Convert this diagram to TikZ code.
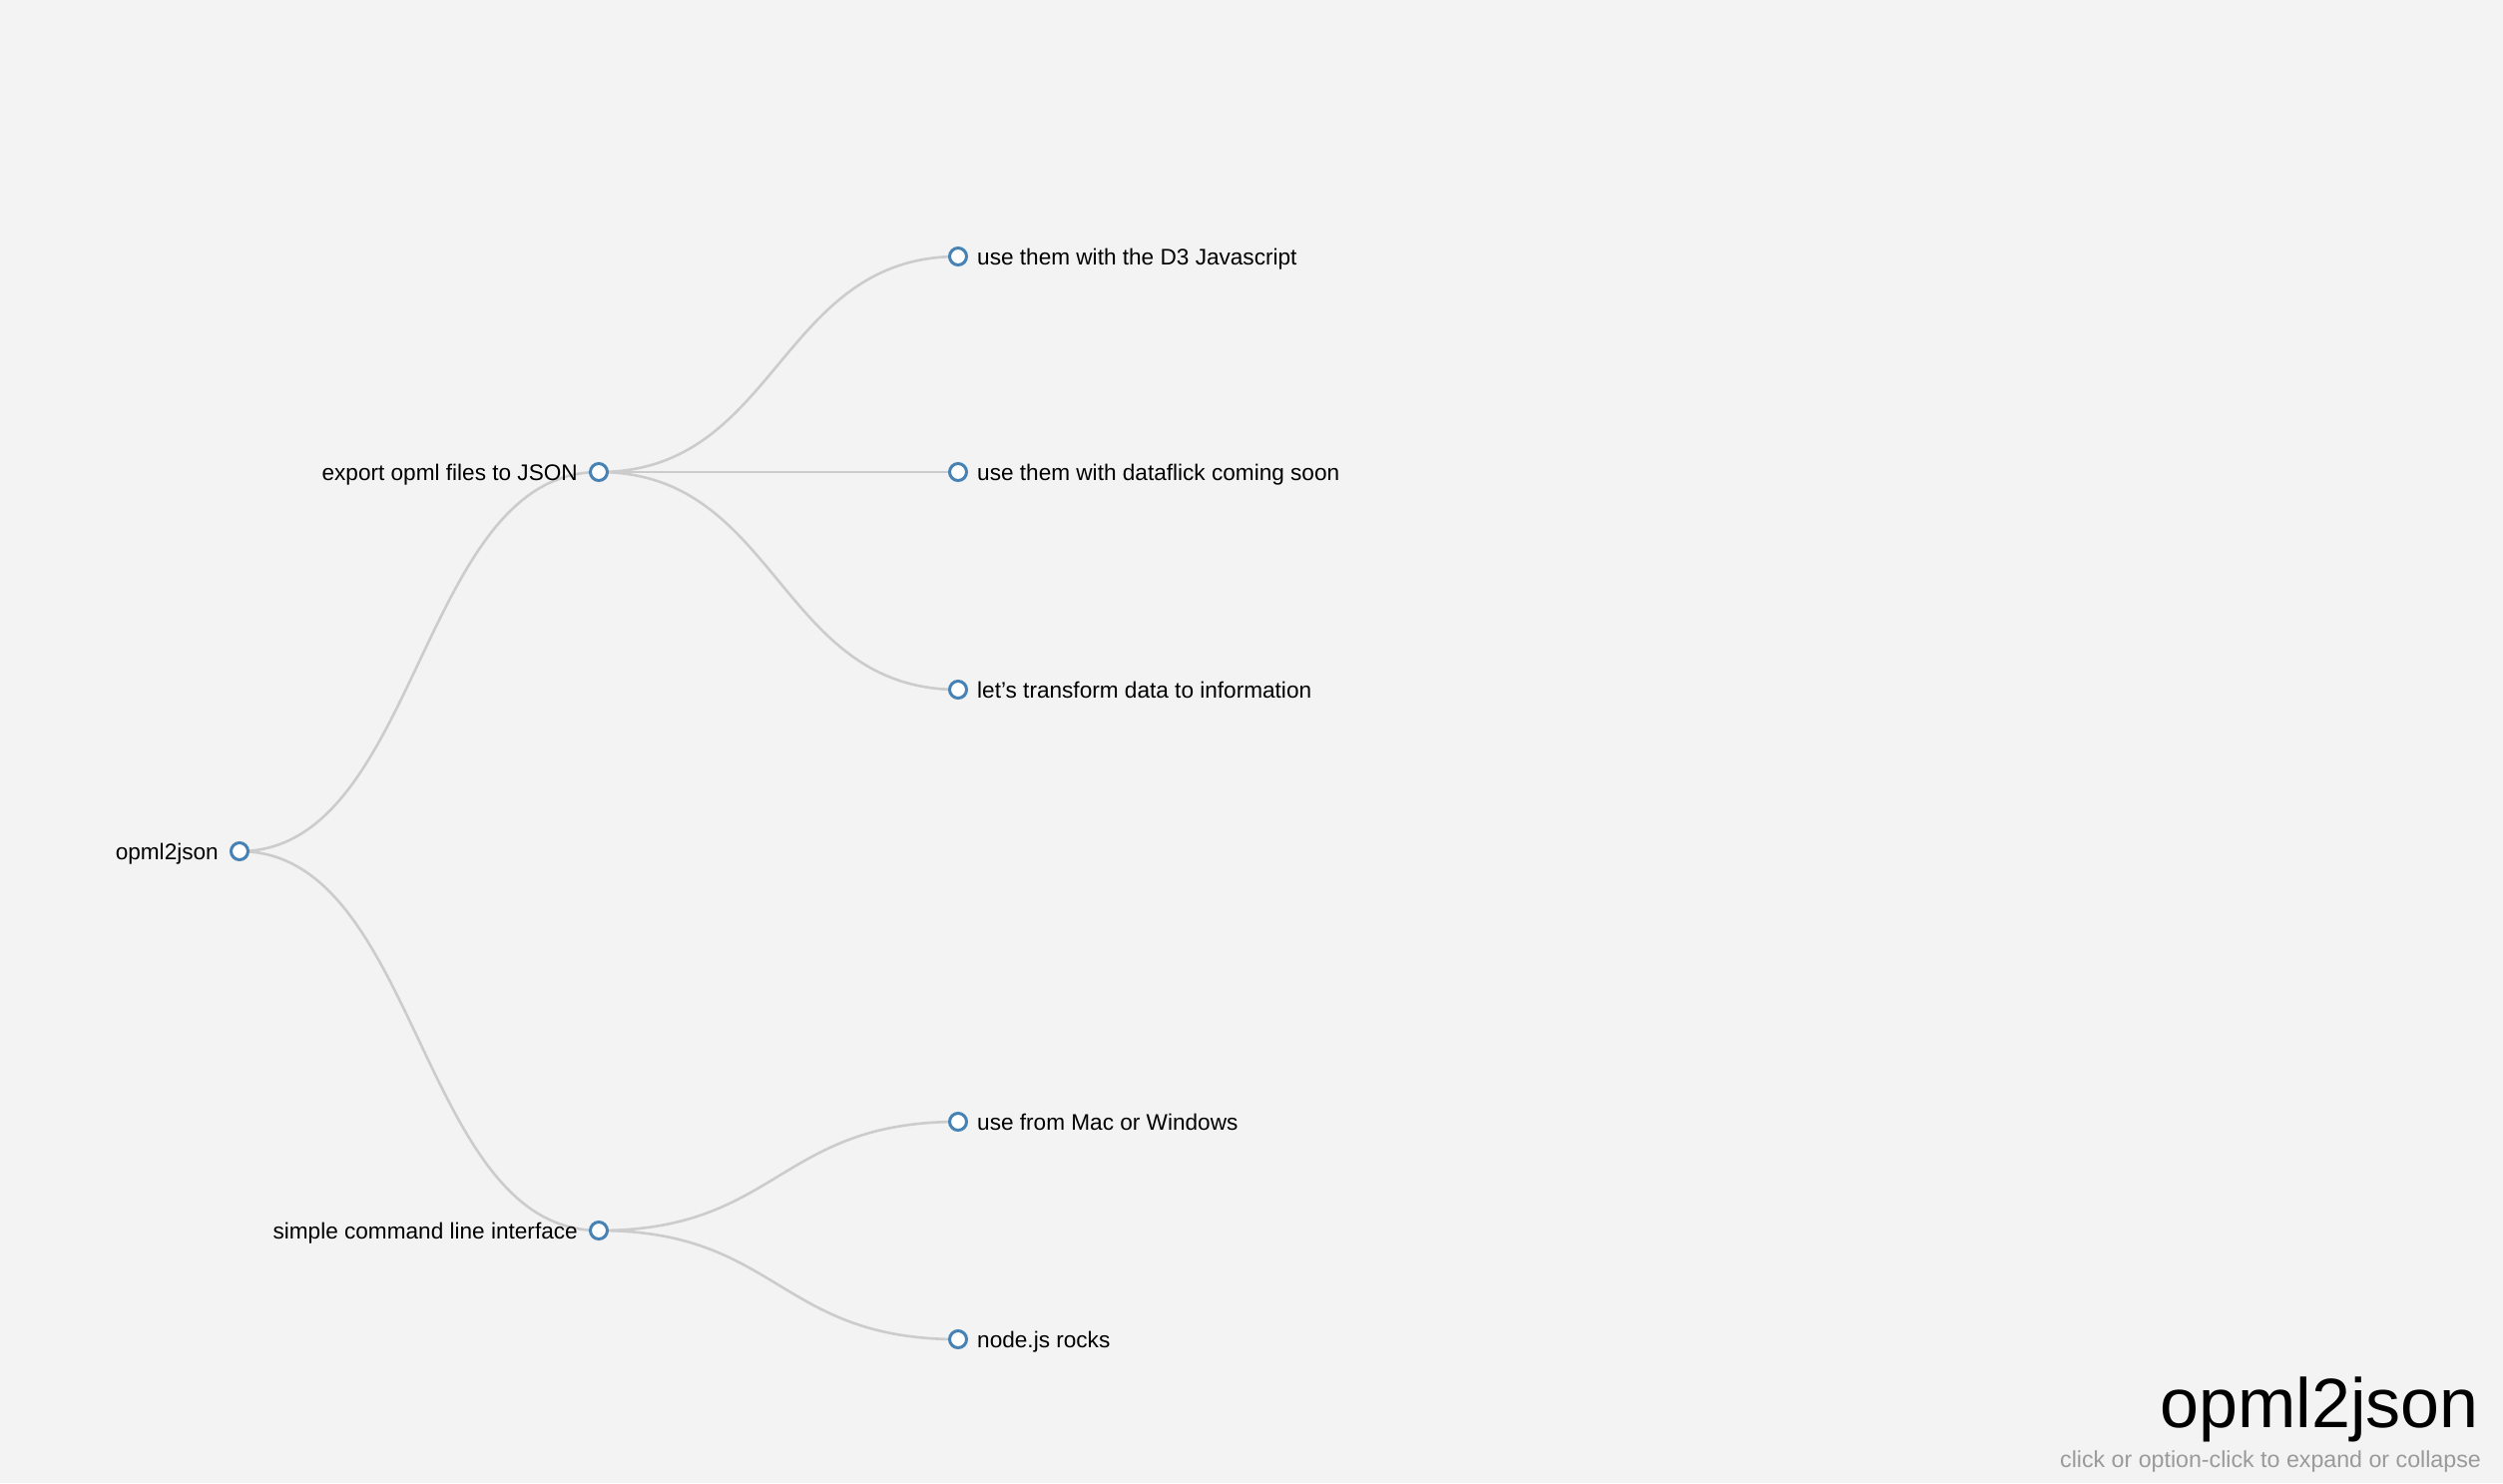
\documentclass[tikz,border=0pt]{standalone}
\usepackage{fontspec}
\setmainfont{Liberation Sans}
\usetikzlibrary{calc}
\pgfdeclarelayer{paper}
\pgfdeclarelayer{wires}
\pgfsetlayers{paper,wires,main}
\definecolor{paperbg}{HTML}{F3F3F3}
\definecolor{wire}{HTML}{CCCCCC}
\definecolor{ringblue}{HTML}{4682B4}
\definecolor{hint}{HTML}{9A9A9A}
\tikzset{
  dot/.style={circle, draw=ringblue, line width=3pt, fill=white, minimum size=17pt, inner sep=0pt},
  lbl/.style={inner sep=0pt, font=\fontsize{22.6}{27}\selectfont, text=black},
  link/.style={draw=wire, line width=2.6pt}
}
% horizontal tree edge: cubic curve with control points at the horizontal midpoint
\newcommand{\branch}[2]{%
  \begin{pgfonlayer}{wires}
  \draw[link] let \p1=(#1.center), \p2=(#2.center) in
    (#1.center) .. controls ({(\x1+\x2)/2},\y1) and ({(\x1+\x2)/2},\y2) .. (#2.center);
  \end{pgfonlayer}}
\begin{document}
\begin{tikzpicture}[x=1pt, y=-1pt]
\begin{pgfonlayer}{paper}
  \fill[paperbg] (0,0) rectangle (2508,1486);
\end{pgfonlayer}
\useasboundingbox (0,0) rectangle (2508,1486);

% tree nodes
\node[dot] (root) at (240,853) {};
\node[dot] (export) at (600,473) {};
\node[dot] (cli) at (600,1233) {};
\node[dot] (d3) at (960,257) {};
\node[dot] (flick) at (960,473) {};
\node[dot] (info) at (960,691) {};
\node[dot] (mac) at (960,1124) {};
\node[dot] (nodejs) at (960,1342) {};

% labels
\node[lbl, anchor=base east] (troot) at ([shift={(-21,8)}]root.center) {opml2json};
\node[lbl, anchor=base east] (texport) at ([shift={(-21,8)}]export.center) {export opml files to JSON};
\node[lbl, anchor=base east] (tcli) at ([shift={(-21,8)}]cli.center) {simple command line interface};
\node[lbl, anchor=base west] (td3) at ([shift={(19,8)}]d3.center) {use them with the D3 Javascript};
\node[lbl, anchor=base west] (tflick) at ([shift={(19,8)}]flick.center) {use them with dataflick coming soon};
\node[lbl, anchor=base west] (tinfo) at ([shift={(19,8)}]info.center) {let's transform data to information};
\node[lbl, anchor=base west] (tmac) at ([shift={(19,8)}]mac.center) {use from Mac or Windows};
\node[lbl, anchor=base west] (tnodejs) at ([shift={(19,8)}]nodejs.center) {node.js rocks};

% edges
\branch{root}{export}
\branch{root}{cli}
\branch{export}{d3}
\branch{export}{flick}
\branch{export}{info}
\branch{cli}{mac}
\branch{cli}{nodejs}

% title block
\node[inner sep=0pt, anchor=base east, font=\fontsize{70}{80}\selectfont] (title) at (2484,1430) {opml2json};
\node[inner sep=0pt, anchor=base east, text=hint, font=\fontsize{23.2}{27}\selectfont] (hinttext) at (2486,1470) {click or option-click to expand or collapse};
\end{tikzpicture}
\end{document}
